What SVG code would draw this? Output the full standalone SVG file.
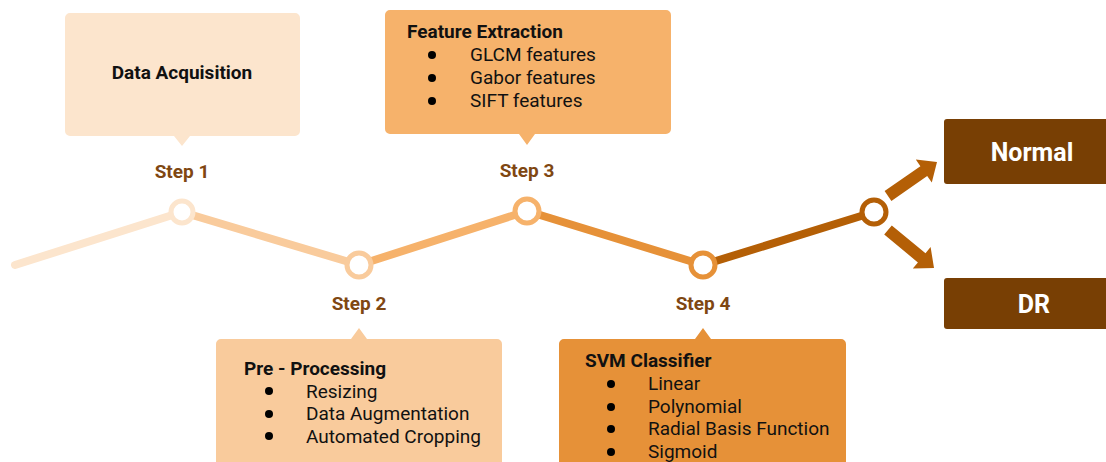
<svg xmlns="http://www.w3.org/2000/svg" width="1106" height="462" viewBox="0 0 1106 462">
<style>
.t{font-family:Roboto,"Liberation Sans",sans-serif;fill:#111}
.h{font-weight:bold;font-size:19px}
.i{font-size:19px}
.d{fill:#000}
.s{font-family:Roboto,"Liberation Sans",sans-serif;font-weight:bold;font-size:19px;fill:#7f4712;text-anchor:middle}
.o{font-family:Roboto,"Liberation Sans",sans-serif;font-weight:bold;font-size:25px;fill:#fff;text-anchor:middle}
.seg{stroke-width:8;stroke-linecap:round;fill:none}
.c{fill:#fff;stroke-width:5}
</style>
<rect width="1106" height="462" fill="#fff"/>
<g id="connectors">
<line class="seg" x1="15" y1="265" x2="182" y2="212" stroke="#fce5cd"/>
<line class="seg" x1="182" y1="212" x2="359" y2="265" stroke="#f9cb9c"/>
<line class="seg" x1="359" y1="265" x2="527" y2="211" stroke="#f6b26b"/>
<line class="seg" x1="527" y1="211" x2="703" y2="265" stroke="#e69138"/>
<line class="seg" x1="703" y1="265" x2="874" y2="212" stroke="#b45f06"/>
<polygon points="884.6,191.1 920.4,166.2 915.8,159.6 937,162 931.8,182.6 927.2,176.0 891.4,200.9" fill="#b45f06"/>
<polygon points="891.8,225.4 925.5,253.2 930.6,247.0 934,268 912.8,268.6 917.9,262.4 884.2,234.6" fill="#b45f06"/>
</g>
<g id="step1">
<path d="M70,13 H295 A5,5 0 0 1 300,18 V131 A5,5 0 0 1 295,136 H190 L182,146 L174,136 H70 A5,5 0 0 1 65,131 V18 A5,5 0 0 1 70,13 Z" fill="#fce5cd"/>
<text class="t h" x="182" y="79" text-anchor="middle">Data Acquisition</text>
<text class="s" x="182" y="178">Step 1</text>
<circle class="c" cx="182" cy="212" r="11" stroke="#fce5cd"/>
</g>
<g id="step2">
<path d="M221,339 H351 L359,328 L367,339 H497 A5,5 0 0 1 502,344 V470 H216 V344 A5,5 0 0 1 221,339 Z" fill="#f9cb9c"/>
<text class="t h" x="244" y="375">Pre - Processing</text>
<circle class="d" cx="269" cy="391" r="4"/><text class="t i" x="306" y="398">Resizing</text>
<circle class="d" cx="269" cy="414" r="4"/><text class="t i" x="306" y="420">Data Augmentation</text>
<circle class="d" cx="269" cy="436" r="4"/><text class="t i" x="306" y="443">Automated Cropping</text>
<text class="s" x="359" y="310">Step 2</text>
<circle class="c" cx="359" cy="265" r="12" stroke="#f9cb9c"/>
</g>
<g id="step3">
<path d="M390,10 H666 A5,5 0 0 1 671,15 V129 A5,5 0 0 1 666,134 H535 L527,145 L519,134 H390 A5,5 0 0 1 385,129 V15 A5,5 0 0 1 390,10 Z" fill="#f6b26b"/>
<text class="t h" x="407" y="38">Feature Extraction</text>
<circle class="d" cx="432" cy="55" r="4"/><text class="t i" x="470" y="61">GLCM features</text>
<circle class="d" cx="432" cy="78" r="4"/><text class="t i" x="470" y="84">Gabor features</text>
<circle class="d" cx="432" cy="101" r="4"/><text class="t i" x="470" y="107">SIFT features</text>
<text class="s" x="527" y="177">Step 3</text>
<circle class="c" cx="527" cy="211" r="12" stroke="#f6b26b"/>
</g>
<g id="step4">
<path d="M564,339 H695 L703,328 L711,339 H841 A5,5 0 0 1 846,344 V470 H559 V344 A5,5 0 0 1 564,339 Z" fill="#e69138"/>
<text class="t h" x="585" y="367">SVM Classifier</text>
<circle class="d" cx="611" cy="384" r="4"/><text class="t i" x="648" y="390">Linear</text>
<circle class="d" cx="611" cy="407" r="4"/><text class="t i" x="648" y="413">Polynomial</text>
<circle class="d" cx="611" cy="429" r="4"/><text class="t i" x="648" y="435">Radial Basis Function</text>
<circle class="d" cx="611" cy="452" r="4"/><text class="t i" x="648" y="458">Sigmoid</text>
<text class="s" x="703" y="310">Step 4</text>
<circle class="c" cx="703" cy="265" r="12" stroke="#e69138"/>
</g>
<g id="junction">
<circle class="c" cx="874" cy="212" r="12" stroke="#b45f06"/>
</g>
<g id="normal">
<rect x="944" y="119" width="170" height="65" rx="3" fill="#783f04"/>
<text class="o" x="1032" y="161">Normal</text>
</g>
<g id="dr">
<rect x="944" y="278" width="170" height="51" rx="3" fill="#783f04"/>
<text class="o" x="1034" y="313">DR</text>
</g>
</svg>
